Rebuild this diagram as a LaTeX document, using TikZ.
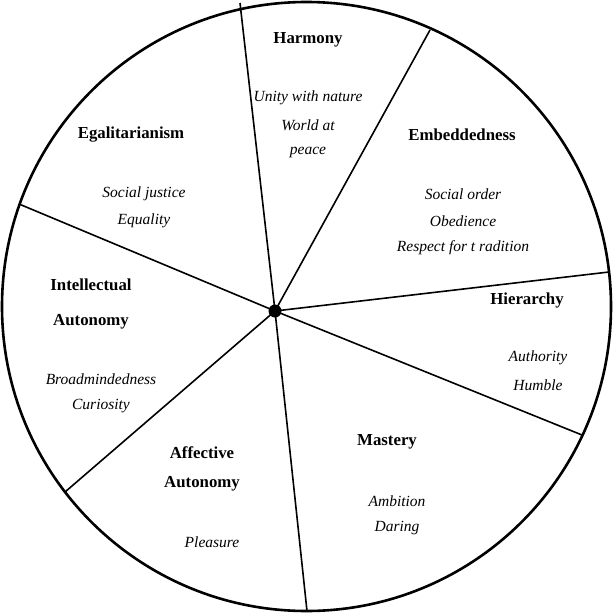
\documentclass[tikz,border=0pt]{standalone}
\usepackage{fontspec}
\setmainfont{Liberation Serif}
\begin{document}
\begin{tikzpicture}[x=1pt,y=-1pt,
  head/.style={font=\fontsize{16.8}{19}\selectfont\bfseries, inner sep=0pt},
  item/.style={font=\fontsize{15.5}{19}\selectfont\itshape, inner sep=0pt},
  spoke/.style={line width=1.6pt}]
\useasboundingbox (0,0) rectangle (613,613);
\fill[white] (0,0) rectangle (613,613);
\coordinate (O) at (306.5,306.5);
\draw[line width=2.6pt] (O) circle[radius=304.5];
\node[circle, fill=black, inner sep=0pt, minimum size=13pt] (c) at (275,311) {};
\coordinate (e1) at (240,3);
\coordinate (e2) at (430,30);
\coordinate (e3) at (609,272);
\coordinate (e4) at (582,435);
\coordinate (e5) at (307,611);
\coordinate (e6) at (65,492);
\coordinate (e7) at (19,204);
\foreach \e in {e1,e2,e3,e4,e5,e6,e7} \draw[spoke] (c.center) -- (\e);
% Harmony
\node[head] (harm) at (308,40) {Harmony};
\node[item] (harm1) at (308,98) {Unity with nature};
\node[item] (harm2) at (308,125) {World at};
\node[item] (harm3) at (308,152) {peace};
% Egalitarianism
\node[head] (egal) at (131,135) {Egalitarianism};
\node[item] (egal1) at (144,194) {Social justice};
\node[item] (egal2) at (144,221) {Equality};
% Embeddedness
\node[head] (emb) at (462,135) {Embeddedness};
\node[item] (emb1) at (463,194) {Social order};
\node[item] (emb2) at (463,221) {Obedience};
\node[item] (emb3) at (463,248) {Respect for t radition};
% Hierarchy
\node[head] (hier) at (527,300) {Hierarchy};
\node[item] (hier1) at (538,358) {Authority};
\node[item] (hier2) at (538,385) {Humble};
% Intellectual Autonomy
\node[head] (int1) at (91,285) {Intellectual};
\node[head] (int2) at (91,322) {Autonomy};
\node[item] (intA) at (101,379) {Broadmindedness};
\node[item] (intB) at (101,406) {Curiosity};
% Mastery
\node[head] (mast) at (387,442) {Mastery};
\node[item] (mast1) at (397,501) {Ambition};
\node[item] (mast2) at (397,528) {Daring};
% Affective Autonomy
\node[head] (aff1) at (202,453) {Affective};
\node[head] (aff2) at (202,484) {Autonomy};
\node[item] (aff3) at (212,542) {Pleasure};
\end{tikzpicture}
\end{document}
